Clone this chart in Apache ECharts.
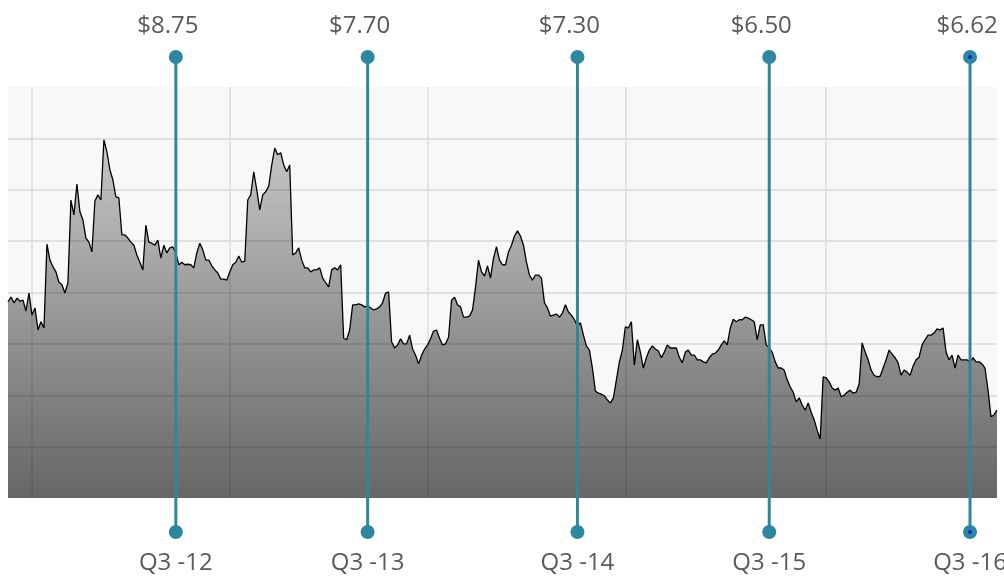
<!DOCTYPE html>
<html>
<head>
<meta charset="utf-8">
<script src="https://cdn.jsdelivr.net/npm/echarts@6/dist/echarts.min.js"></script>
<style>
html,body{margin:0;padding:0;background:#ffffff;}
#chart{width:1004px;height:578px;}
</style>
</head>
<body>
<div id="chart"></div>
<script>
// Daily-ish share price readings, split by year segment
const prices2012 = [7.82,7.91,7.80,7.89,7.83,7.85,7.64,7.99,7.56,7.70,7.27,7.43,7.31,8.94,8.63,8.50,8.40,8.20,8.15,7.99,
  8.19,9.80,9.51,10.11,9.57,9.41,9.06,8.98,8.79,9.78,9.90,9.80,10.97,10.74,10.39,10.19,9.86,9.84,9.12,9.12,
  9.06,8.98,8.92,8.73,8.59,8.44,9.31,8.98,8.96,8.92,9.02,8.67,8.92,8.77,8.87,8.89,8.77];
const prices2013 = [8.54,8.59,8.54,8.55,8.54,8.48,8.77,8.96,8.83,8.63,8.63,8.52,8.44,8.38,8.26,8.26,8.24,8.40,8.54,8.59,
  8.71,8.59,8.61,9.80,9.90,10.35,10.00,9.61,9.90,9.96,10.07,10.48,10.81,10.68,10.72,10.48,10.35,10.48,8.73,8.77,
  8.87,8.63,8.48,8.48,8.40,8.44,8.44,8.48,8.28,8.19,8.11,8.44,8.48,8.44,8.54,7.11,7.08,7.27,7.76,7.76,
  7.78,7.76,7.72,7.74];
const prices2014 = [7.70,7.66,7.68,7.72,7.80,7.99,8.01,7.04,6.92,6.98,7.10,7.00,7.00,7.17,6.90,6.78,6.61,6.78,6.90,6.98,
  7.10,7.25,7.27,7.11,6.98,7.00,7.13,7.85,7.91,7.76,7.72,7.52,7.52,7.54,7.66,8.11,8.63,8.40,8.32,8.52,
  8.28,8.67,8.89,8.63,8.54,8.54,8.79,8.92,9.10,9.20,9.10,8.92,8.59,8.34,8.24,8.34,8.34,8.28,7.80,7.70,
  7.54,7.56,7.58,7.52,7.60,7.76,7.62,7.56,7.47,7.35];
const prices2015 = [7.41,7.17,6.96,6.88,6.53,6.08,6.04,6.02,5.99,5.91,5.85,5.95,6.30,6.65,6.88,7.33,7.31,7.43,6.59,7.08,
  6.84,6.53,6.73,6.88,6.96,6.90,6.86,6.73,6.84,6.98,6.92,6.92,6.92,6.74,6.63,6.84,6.88,6.78,6.78,6.69,
  6.69,6.65,6.63,6.73,6.80,6.82,6.88,6.98,7.06,6.98,7.31,7.48,7.43,7.47,7.47,7.52,7.50,7.47,7.43,7.08,
  7.37,7.37,6.98,6.92];
const prices2016 = [6.84,6.65,6.53,6.53,6.49,6.30,6.16,6.06,5.87,5.95,5.81,5.71,5.85,5.67,5.52,5.32,5.15,6.36,6.34,6.26,
  6.14,6.10,6.14,5.97,6.00,6.06,6.10,6.04,6.06,6.22,7.02,6.84,6.69,6.49,6.39,6.36,6.37,6.53,6.69,6.88,
  6.80,6.73,6.63,6.39,6.49,6.45,6.39,6.57,6.69,6.74,6.98,7.08,7.17,7.17,7.21,7.29,7.27,7.31,6.84,6.69,
  6.78,6.53,6.78,6.69,6.69,6.69,6.65,6.73,6.65,6.65,6.61,6.53,6.10,5.58,5.62,5.71];

// Vertical gridline positions (day index)
const gridDays = [8, 74, 140, 206, 273];

// Quarter markers
const markerDays = [56, 120, 190, 254, 321];
const markerPrices = ['$8.75', '$7.70', '$7.30', '$6.50', '$6.62'];
const markerQuarters = ['Q3 -12', 'Q3 -13', 'Q3 -14', 'Q3 -15', 'Q3 -16'];
const highlightedMarkers = [4];

const prices = [].concat(prices2012, prices2013, prices2014, prices2015, prices2016);
const days = prices.map(function (_, i) { return i; });
const lastDay = days.length - 1;

const TEAL = '#2e87a0';
const labelFont = { fontFamily: 'Open Sans', fontSize: 24, color: '#5a5a5a' };

const markerSeries = markerDays.map(function (d, i) {
  return {
    type: 'line',
    xAxisIndex: 1,
    yAxisIndex: 1,
    z: 5,
    silent: true,
    clip: false,
    symbol: 'circle',
    symbolSize: 14,
    showSymbol: true,
    lineStyle: { color: TEAL, width: 3 },
    itemStyle: { color: TEAL },
    data: [
      { value: [d, 0], label: Object.assign({ show: true, position: 'bottom', distance: 12, formatter: markerQuarters[i] }, labelFont) },
      { value: [d, 1], label: Object.assign({ show: true, position: 'top', distance: 12, offset: [i === markerDays.length - 1 ? -3 : -8, 0], formatter: markerPrices[i] }, labelFont) }
    ]
  };
});

const dotData = [];
highlightedMarkers.forEach(function (i) {
  dotData.push([markerDays[i], 0], [markerDays[i], 1]);
});

const chart = echarts.init(document.getElementById('chart'), null, { renderer: 'canvas' });
chart.setOption({
  animation: false,
  backgroundColor: '#ffffff',
  grid: [
    { left: 8, right: 7, top: 87, bottom: 80, show: true, backgroundColor: '#f8f8f8', borderWidth: 0 },
    { left: 8, right: 7, top: 57, bottom: 46, show: false }
  ],
  xAxis: [
    {
      type: 'category', gridIndex: 0, data: days, boundaryGap: false,
      axisLine: { show: false }, axisTick: { show: false }, axisLabel: { show: false },
      splitLine: {
        show: true,
        interval: function (index) { return gridDays.indexOf(index) !== -1; },
        lineStyle: { color: '#dcdcdc', width: 1.5 }
      }
    },
    { type: 'value', gridIndex: 1, min: 0, max: lastDay, show: false }
  ],
  yAxis: [
    {
      type: 'value', gridIndex: 0, min: 4, max: 12, interval: 1,
      axisLine: { show: false }, axisTick: { show: false }, axisLabel: { show: false },
      splitLine: { show: true, showMinLine: false, showMaxLine: false, lineStyle: { color: '#d8d8d8', width: 1.5 } }
    },
    { type: 'value', gridIndex: 1, min: 0, max: 1, show: false }
  ],
  series: [
    {
      type: 'line',
      xAxisIndex: 0,
      yAxisIndex: 0,
      z: 2,
      silent: true,
      data: prices,
      showSymbol: false,
      symbol: 'none',
      lineStyle: { color: '#000000', width: 1.3 },
      areaStyle: {
        opacity: 1,
        color: new echarts.graphic.LinearGradient(0, 0, 0, 1, [
          { offset: 0, color: 'rgba(0,0,0,0.20)' },
          { offset: 1, color: 'rgba(0,0,0,0.59)' }
        ])
      }
    }
  ].concat(markerSeries, [{
    type: 'scatter',
    xAxisIndex: 1,
    yAxisIndex: 1,
    z: 6,
    silent: true,
    clip: false,
    symbol: 'circle',
    symbolSize: 4,
    itemStyle: { color: '#0000ff' },
    data: dotData
  }])
});
</script>
</body>
</html>
